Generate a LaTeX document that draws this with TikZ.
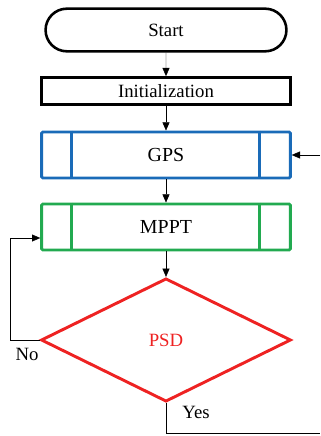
\documentclass[tikz,border=0pt]{standalone}
\usepackage{fontspec}
\setmainfont{Liberation Serif}
\usetikzlibrary{shapes.geometric,shapes.misc,arrows.meta}
\definecolor{gpsblue}{RGB}{26,107,184}
\definecolor{mpptgreen}{RGB}{34,170,80}
\definecolor{psdred}{RGB}{238,34,34}
\begin{document}
\begin{tikzpicture}
        [terminal/.style={rounded rectangle, draw, line width=2.2pt, minimum width=7.46cm, minimum height=1.28cm, font=\fontsize{16}{18}\selectfont},
        process/.style={rectangle, draw, line width=2.6pt, minimum width=7.46cm, minimum height=0.8cm, font=\fontsize{16}{18}\selectfont},
        subproc/.style={rectangle, draw, rounded corners=1pt, line width=2.5pt, minimum width=7.46cm, minimum height=1.38cm, font=\fontsize{17}{19}\selectfont},
        decision/.style={diamond, draw=psdred, text=psdred, line width=2.5pt, minimum width=7.5cm, minimum height=3.7cm, inner sep=0pt, font=\fontsize{16}{18}\selectfont},
        flow/.style={thin, black, -{Triangle[length=7pt, width=6pt]}},
        line/.style={thin, black}]

        \useasboundingbox (0,0) rectangle (9.6,-13.08);

        \node[terminal] (start) at (4.98,-0.9) {Start};
        \node[process] (init) at (4.98,-2.73) {Initialization};
        \node[subproc, draw=gpsblue] (gps) at (4.98,-4.65) {GPS};
        \node[subproc, draw=mpptgreen] (mppt) at (4.98,-6.81) {MPPT};
        \node[decision] (psd) at (4.98,-10.2) {PSD};

        % side bars of the GPS and MPPT boxes
        \draw[gpsblue, line width=2.5pt] ([xshift=0.93cm]gps.north west) -- ([xshift=0.93cm]gps.south west);
        \draw[gpsblue, line width=2.5pt] ([xshift=-0.96cm]gps.north east) -- ([xshift=-0.96cm]gps.south east);
        \draw[mpptgreen, line width=2.5pt] ([xshift=0.93cm]mppt.north west) -- ([xshift=0.93cm]mppt.south west);
        \draw[mpptgreen, line width=2.5pt] ([xshift=-0.96cm]mppt.north east) -- ([xshift=-0.96cm]mppt.south east);

        % free ends of the loops
        \coordinate (back) at (9.6,-4.65);
        \coordinate (noturn) at (0.3,-10.2);
        \coordinate (noup) at (0.3,-7.14);
        \coordinate (mpptin) at ([yshift=-0.33cm]mppt.west);
        \coordinate (yesdown) at (4.98,-12.99);
        \coordinate (yesout) at (9.6,-12.99);

        % main flow
        \draw[flow] (start) -- (init);
        \draw[flow] (init) -- (gps);
        \draw[flow] (gps) -- (mppt);
        \draw[flow] (mppt) -- (psd);
        \draw[flow] (back) -- (gps.east);

        % No branch back to MPPT
        \draw[line] (psd.west) -- (noturn) -- (noup);
        \draw[flow] (noup) -- (mpptin);
        \node[font=\fontsize{16}{18}\selectfont] (no) at (0.81,-10.63) {No};

        % Yes branch
        \draw[line] (psd.south) -- (yesdown) -- (yesout);
        \node[font=\fontsize{16}{18}\selectfont] (yes) at (5.88,-12.38) {Yes};

    \end{tikzpicture}
\end{document}
